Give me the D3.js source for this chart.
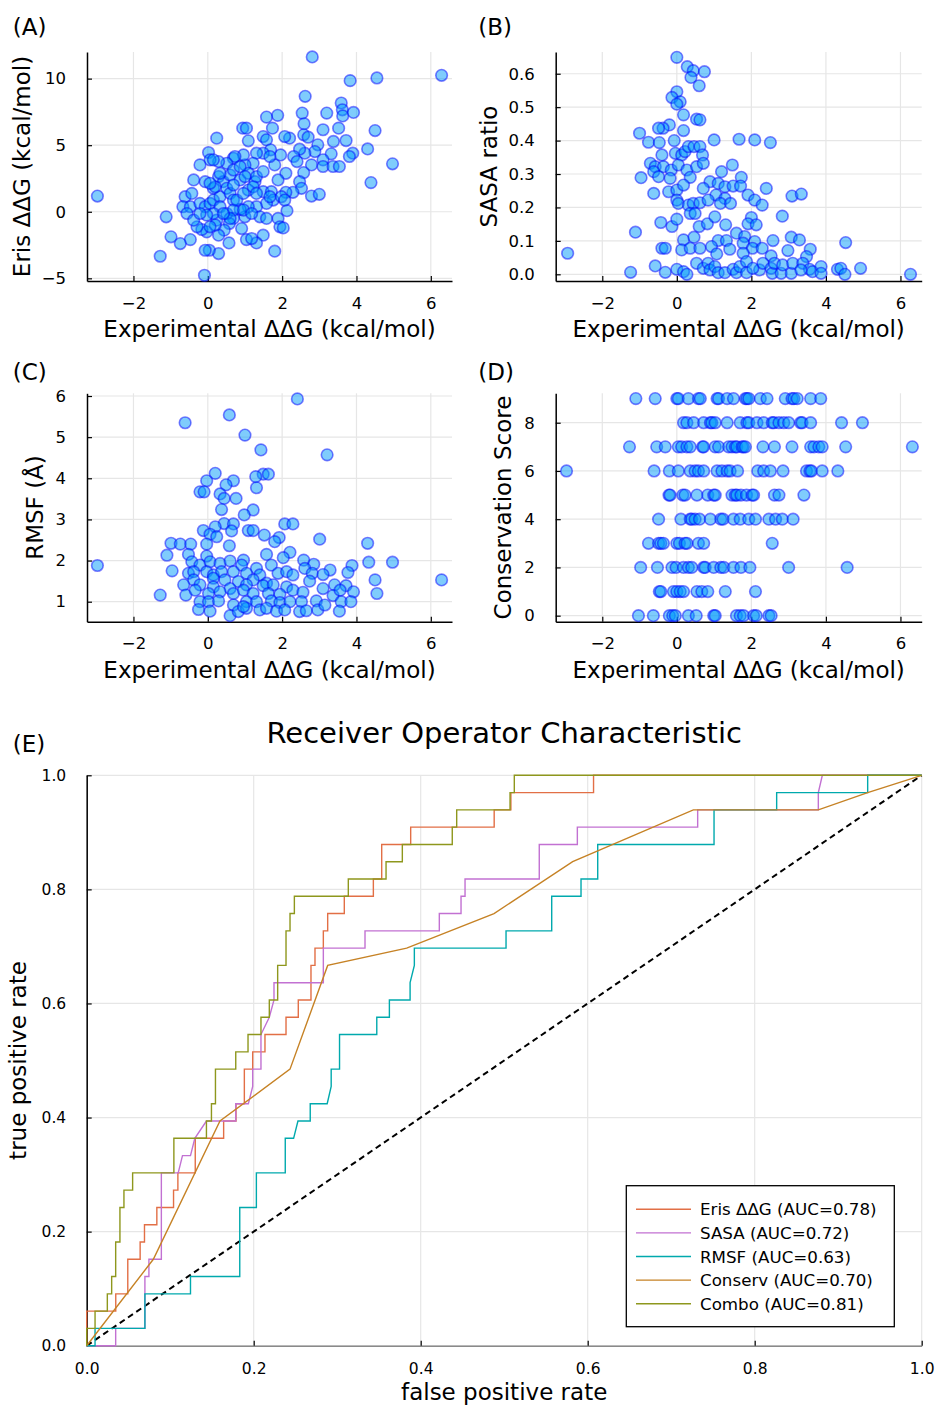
<!DOCTYPE html>
<html>
<head>
<meta charset="utf-8">
<script src="https://cdn.jsdelivr.net/npm/d3@7"></script>
<style>
  body { margin: 0; background: #fff; }
  svg text { font-family: "DejaVu Sans", sans-serif; }
</style>
</head>
<body>
<div id="chart"></div>
<script>
// ---- data ----
const scatterXTicks = [-2, 0, 2, 4, 6];
const erisTicks = [-5, 0, 5, 10];
const sasaTicks = [0, 0.1, 0.2, 0.3, 0.4, 0.5, 0.6];
const rmsfTicks = [1, 2, 3, 4, 5, 6];
const consTicks = [0, 2, 4, 6, 8];
const rocTicks = [0, 0.2, 0.4, 0.6, 0.8, 1.0];

// (A) experimental ddG vs Eris ddG
const erisPoints = [
  [-2.97,1.18],[6.29,10.25],[2.81,11.63],[3.83,9.85],[4.55,10.05],[2.62,8.67],[3.59,8.17],[3.62,7.66],
  [3.63,7.2],[3.92,7.46],[3.2,7.41],[2.54,7.41],[2.59,6.61],[1.58,7.11],[1.88,7.24],[1.74,6.28],
  [0.94,6.28],[1.04,6.28],[0.24,5.53],[1.09,5.33],[3.1,6.16],[3.52,6.28],[4.5,6.1],[2.58,5.78],
  [2.7,5.6],[2.2,5.53],[2.07,5.65],[1.49,5.65],[1.58,5.4],[3.72,5.35],[3.38,5.28],[2.96,5.03],
  [4.3,4.72],[3.9,4.4],[3.81,4.15],[3.32,4.35],[2.88,4.52],[2.61,4.4],[2.47,4.7],[2.31,4.15],
  [2.4,3.77],[2.79,3.52],[3.1,3.9],[3.1,3.4],[3.37,3.4],[3.54,3.4],[4.97,3.6],[4.39,2.19],
  [2.58,2.94],[2.47,2.26],[2.52,1.76],[2.79,1.18],[3.0,1.31],[2.29,1.46],[2.1,1.46],[2.1,2.89],
  [1.89,2.39],[1.8,3.52],[1.96,4.27],[1.69,4.65],[1.49,4.4],[1.31,4.4],[1.67,4.15],[1.22,3.64],
  [1.0,3.52],[0.96,4.27],[0.69,4.02],[0.73,4.15],[0.51,3.64],[0.29,3.77],[0.02,4.45],[0.06,3.9],
  [-0.21,3.52],[-0.38,2.39],[-0.07,2.26],[0.15,1.76],[0.29,2.64],[0.42,2.26],[0.6,2.76],[0.69,3.14],
  [0.87,2.39],[1.09,2.89],[1.27,2.26],[1.31,2.64],[1.49,3.02],[1.09,1.63],[1.49,1.51],[1.71,1.51],
  [1.76,0.88],[1.58,0.63],[1.31,0.38],[1.4,-0.38],[1.58,-0.5],[1.89,-0.5],[1.94,-1.13],[2.03,-1.21],
  [2.13,0.08],[1.8,-2.96],[1.49,-1.76],[1.31,-2.34],[1.04,-2.09],[1.18,-2.01],[0.91,-1.26],[1.0,-0.38],
  [1.09,0.38],[0.87,0.18],[0.69,-0.5],[0.58,-0.88],[0.57,-2.34],[0.44,-1.38],[0.29,-1.76],[0.24,-0.63],
  [0.29,-3.14],[0.04,-2.89],[-0.07,-2.89],[-0.09,-4.77],[-0.03,-1.51],[-0.16,-1.33],[-0.29,-1.13],[-0.47,-2.09],
  [-0.74,-2.39],[-0.99,-1.88],[-1.12,-0.38],[-1.28,-3.34],[-0.61,1.13],[-0.67,0.38],[-0.47,0.38],[-0.56,-0.13],
  [-0.38,-0.63],[-0.43,1.38],[-0.21,0.63],[-0.07,0.38],[0.06,0.63],[0.15,0.88],[0.33,1.13],[0.51,1.76],
  [0.6,1.38],[0.69,0.88],[0.33,0.38],[0.15,-0.13],[-0.03,-0.25],[-0.21,-0.13],[0.2,-1.0],[0.06,-1.13],
  [0.51,-0.13],[0.69,0.13],[0.78,0.88],[0.96,1.38],[1.22,1.88],[1.31,1.38],[0.96,0.13],[1.18,-0.13],
  [0.6,-0.5],[0.42,-0.13],[0.33,2.89],[0.2,1.88],[0.06,2.14],[0.69,2.01],[0.87,3.39],[1.0,2.64],
  [1.98,1.13],[2.07,0.88],[1.67,1.13],[0.15,3.9]
];

// (B) experimental ddG vs SASA ratio
const sasaPoints = [
  [-2.93,0.063],[6.27,0.0],[0.0,0.649],[0.28,0.621],[0.44,0.609],[0.74,0.606],[0.38,0.589],[0.6,0.564],
  [0.0,0.546],[-0.13,0.529],[0.09,0.516],[0.0,0.509],[0.18,0.477],[0.53,0.464],[0.62,0.462],[-0.2,0.447],
  [-0.37,0.437],[-0.49,0.437],[0.18,0.43],[-1.0,0.422],[1.0,0.402],[1.67,0.404],[2.09,0.402],[2.51,0.394],
  [-0.76,0.395],[-0.47,0.394],[-0.07,0.4],[-0.04,0.362],[0.13,0.357],[0.22,0.367],[0.31,0.382],[0.46,0.382],
  [0.62,0.382],[0.69,0.357],[-0.4,0.357],[-0.71,0.332],[-0.58,0.322],[-0.36,0.322],[-0.15,0.312],[0.04,0.327],
  [0.27,0.312],[0.53,0.322],[0.71,0.332],[-0.96,0.289],[-0.62,0.307],[-0.49,0.292],[-0.18,0.287],[0.36,0.29],
  [1.49,0.327],[1.2,0.307],[1.73,0.29],[0.89,0.277],[0.71,0.257],[1.11,0.272],[1.29,0.262],[1.51,0.264],
  [1.71,0.264],[-0.62,0.242],[-0.22,0.247],[0.0,0.252],[0.18,0.267],[2.4,0.257],[1.91,0.237],[2.09,0.222],
  [2.29,0.207],[3.09,0.234],[3.34,0.24],[1.05,0.237],[1.29,0.227],[0.0,0.222],[0.04,0.212],[0.31,0.207],
  [0.44,0.212],[0.62,0.214],[0.84,0.222],[1.17,0.212],[1.44,0.212],[0.36,0.182],[0.49,0.182],[2.83,0.174],
  [-0.43,0.155],[-0.13,0.143],[0.0,0.165],[0.6,0.143],[0.82,0.151],[1.02,0.172],[1.31,0.148],[2.0,0.17],
  [1.91,0.151],[2.13,0.148],[-1.11,0.126],[1.6,0.123],[1.82,0.113],[0.18,0.103],[0.46,0.111],[1.11,0.101],
  [1.33,0.101],[1.78,0.093],[2.09,0.098],[2.58,0.101],[3.07,0.111],[3.29,0.103],[4.53,0.095],[-0.4,0.078],
  [-0.31,0.078],[0.13,0.073],[0.36,0.078],[0.62,0.078],[0.93,0.083],[1.42,0.075],[2.03,0.078],[2.29,0.078],
  [2.98,0.071],[3.58,0.075],[3.48,0.053],[1.07,0.061],[1.78,0.063],[2.53,0.055],[-0.58,0.025],[-1.24,0.006],
  [-0.31,0.006],[0.0,0.015],[0.18,0.008],[0.27,0.0],[0.53,0.033],[0.71,0.018],[0.84,0.033],[0.89,0.013],
  [1.02,0.023],[1.11,0.005],[1.29,0.005],[1.51,0.015],[1.6,0.005],[1.69,0.023],[1.87,0.038],[1.87,0.005],
  [2.22,0.013],[2.31,0.033],[2.53,0.018],[2.56,0.003],[2.62,0.033],[2.8,0.003],[2.84,0.028],[3.07,0.003],
  [3.11,0.033],[3.38,0.033],[3.56,0.015],[3.64,0.008],[3.87,0.023],[3.87,0.003],[4.31,0.015],[4.4,0.018],
  [4.51,0.0],[4.93,0.018],[3.33,0.013],[2.04,0.018]
];

// (C) experimental ddG vs RMSF
const rmsfPoints = [
  [-2.97,1.88],[6.29,1.53],[2.41,5.93],[0.58,5.54],[-0.61,5.35],[1.0,5.05],[1.43,4.69],[3.21,4.57],
  [0.2,4.12],[1.49,4.1],[1.63,4.1],[1.29,4.04],[0.69,3.94],[-0.03,3.94],[0.49,3.84],[1.31,3.77],
  [-0.21,3.67],[-0.1,3.67],[0.33,3.62],[0.44,3.51],[0.76,3.51],[0.37,3.24],[1.22,3.23],[0.98,3.11],
  [2.07,2.89],[2.29,2.89],[0.44,2.9],[0.69,2.89],[0.2,2.82],[-0.12,2.73],[0.06,2.64],[0.24,2.58],
  [0.64,2.72],[1.09,2.73],[1.22,2.73],[1.52,2.62],[1.92,2.56],[1.8,2.46],[3.01,2.52],[4.3,2.42],
  [-0.99,2.42],[-0.74,2.4],[-0.46,2.4],[-0.03,2.4],[0.58,2.36],[-1.1,2.13],[-0.52,2.15],[-0.03,2.11],
  [1.58,2.15],[2.21,2.2],[2.03,2.07],[-0.43,1.97],[-0.21,1.89],[0.06,1.97],[0.33,1.93],[0.6,1.99],
  [0.96,2.01],[0.91,1.89],[1.31,1.81],[1.71,1.89],[2.58,2.01],[2.85,1.91],[2.61,1.81],[3.29,1.77],
  [3.88,1.88],[4.33,1.96],[4.97,1.96],[-0.96,1.75],[-0.52,1.69],[-0.38,1.73],[-0.03,1.73],[0.15,1.65],
  [0.37,1.73],[0.69,1.73],[1.04,1.69],[1.4,1.65],[1.89,1.69],[2.12,1.73],[2.29,1.65],[2.81,1.69],
  [3.1,1.66],[3.77,1.71],[4.5,1.53],[-0.38,1.53],[0.15,1.57],[0.46,1.53],[0.82,1.49],[1.22,1.53],
  [1.58,1.45],[2.74,1.5],[-0.65,1.41],[-0.21,1.41],[0.15,1.36],[0.6,1.32],[1.04,1.41],[1.49,1.39],
  [1.76,1.41],[2.12,1.36],[3.41,1.41],[3.72,1.39],[-1.28,1.16],[-0.59,1.16],[-0.34,1.28],[0.02,1.2],
  [0.33,1.24],[0.69,1.2],[0.96,1.28],[1.22,1.2],[1.63,1.2],[1.94,1.18],[2.29,1.28],[2.56,1.23],
  [3.1,1.32],[3.37,1.15],[3.56,1.28],[3.92,1.24],[4.55,1.2],[-0.21,1.0],[0.02,1.0],[0.29,1.02],
  [0.69,0.92],[1.04,1.0],[1.31,1.0],[1.71,1.02],[1.94,0.98],[2.21,1.0],[2.52,1.0],[2.92,1.02],
  [3.59,1.0],[3.85,1.0],[-0.25,0.81],[0.06,0.77],[0.6,0.66],[0.82,0.76],[1.04,0.84],[1.4,0.8],
  [1.58,0.84],[1.85,0.77],[2.07,0.8],[2.47,0.76],[2.65,0.78],[2.96,0.8],[3.54,0.77],[3.15,0.92],
  [0.96,0.88]
];

// (D) conservation score rows and the experimental ddG of each point in the row
const consScores = [9, 8, 7, 6, 5, 4, 3, 2, 1, 0];
const consXByScore = [
  [-1.1,-0.58,0.0,0.04,0.31,0.58,0.63,1.08,1.12,1.35,1.52,1.84,1.88,1.93,2.24,2.42,2.91,3.09,3.14,3.23,3.59,3.86],
  [0.18,0.27,0.45,0.72,0.9,0.94,1.03,1.35,1.7,1.88,1.93,2.15,2.33,2.56,2.6,2.74,2.87,3.0,3.32,3.36,3.59,4.42,4.98],
  [-1.27,-0.54,-0.31,0.04,0.13,0.27,0.36,0.69,0.72,1.03,1.12,1.39,1.48,1.57,1.61,1.75,1.79,1.84,2.31,2.62,3.09,3.59,3.68,3.81,3.9,4.53,6.32],
  [-2.96,-0.61,-0.2,0.04,0.36,0.49,0.58,0.72,1.08,1.21,1.35,1.43,1.63,2.17,2.33,2.51,2.85,3.48,3.57,3.61,3.9,4.32],
  [-0.21,-0.18,0.16,0.22,0.54,0.83,0.99,1.03,1.48,1.57,1.61,1.72,1.87,2.02,2.06,2.62,2.74,3.41],
  [-0.49,0.11,0.36,0.4,0.49,0.61,0.9,1.18,1.24,1.52,1.7,1.93,2.11,2.47,2.65,2.83,3.12],
  [-0.76,-0.49,-0.43,-0.36,0.0,0.07,0.22,0.27,0.58,0.72,2.56],
  [-0.97,-0.52,-0.13,-0.02,0.18,0.31,0.4,0.72,0.76,0.99,1.18,1.26,1.52,1.72,1.96,3.0,4.57],
  [-0.47,-0.43,-0.09,0.0,0.09,0.18,0.54,0.67,0.83,1.3,2.11],
  [-1.03,-0.63,-0.2,-0.11,-0.04,0.31,0.52,0.99,1.03,1.6,1.7,1.79,2.06,2.13,2.47,2.53]
];

// (E) ROC curves: [false positive rate, true positive rate]
const rocEris = [
  [0,0],[0,0.0606],[0.0348,0.0606],[0.0348,0.0909],[0.0492,0.0909],[0.0492,0.1515],[0.064,0.1515],[0.064,0.1818],
  [0.0692,0.1818],[0.0692,0.2121],[0.084,0.2121],[0.084,0.2424],[0.104,0.2424],[0.104,0.2727],[0.1092,0.2727],[0.1092,0.303],
  [0.13,0.303],[0.13,0.3636],[0.164,0.3636],[0.164,0.3939],[0.1788,0.3939],[0.1788,0.4242],[0.1888,0.4242],[0.1888,0.4848],
  [0.1988,0.4848],[0.1988,0.5152],[0.2135,0.5152],[0.2135,0.5455],[0.2387,0.5455],[0.2387,0.5758],[0.2534,0.5758],[0.2534,0.6061],
  [0.2686,0.6061],[0.2686,0.6667],[0.2734,0.6667],[0.2734,0.697],[0.2834,0.697],[0.2834,0.7273],[0.2886,0.7273],[0.2886,0.7576],
  [0.3085,0.7576],[0.3085,0.7879],[0.3433,0.7879],[0.3433,0.8182],[0.3533,0.8182],[0.3533,0.8788],[0.388,0.8788],[0.388,0.9091],
  [0.488,0.9091],[0.488,0.9394],[0.508,0.9394],[0.508,0.9697],[0.607,0.9697],[0.607,1],[1,1]
];
const rocSasa = [
  [0,0],[0.0347,0],[0.0347,0.0303],[0.0697,0.0303],[0.0697,0.1212],[0.0745,0.1212],[0.0745,0.1515],[0.0894,0.1515],
  [0.0894,0.303],[0.1096,0.303],[0.1147,0.3333],[0.1243,0.3333],[0.1295,0.3636],[0.1434,0.3939],[0.1785,0.3939],[0.1785,0.4242],
  [0.1936,0.4242],[0.1988,0.4545],[0.1988,0.4848],[0.2087,0.4848],[0.2087,0.5455],[0.2187,0.5758],[0.2243,0.6061],[0.2243,0.6364],
  [0.2834,0.6364],[0.2834,0.697],[0.3333,0.697],[0.3333,0.7273],[0.4223,0.7273],[0.4223,0.7576],[0.4483,0.7576],[0.4483,0.7879],
  [0.4531,0.7879],[0.4531,0.8182],[0.542,0.8182],[0.542,0.8788],[0.5876,0.8788],[0.5876,0.9091],[0.7317,0.9091],[0.7317,0.9394],
  [0.8762,0.9394],[0.8762,0.9697],[0.881,1],[1,1]
];
const rocRmsf = [
  [0,0],[0.01,0],[0.01,0.0303],[0.0697,0.0303],[0.0697,0.0909],[0.1243,0.0909],[0.1243,0.1212],[0.1833,0.1212],
  [0.1833,0.2424],[0.2032,0.2424],[0.2032,0.303],[0.2378,0.303],[0.2378,0.3636],[0.2478,0.3636],[0.253,0.3939],[0.2677,0.3939],
  [0.2677,0.4242],[0.288,0.4242],[0.2928,0.4545],[0.2928,0.4848],[0.3028,0.4848],[0.3028,0.5455],[0.3474,0.5455],[0.3474,0.5758],
  [0.3625,0.5758],[0.3625,0.6061],[0.3873,0.6061],[0.3873,0.6364],[0.3924,0.6667],[0.3924,0.697],[0.5022,0.697],[0.5022,0.7273],
  [0.5569,0.7273],[0.5569,0.7879],[0.592,0.7879],[0.592,0.8182],[0.612,0.8182],[0.612,0.8788],[0.7513,0.8788],[0.7513,0.9394],
  [0.8263,0.9394],[0.8263,0.9697],[0.9353,0.9697],[0.9353,1],[1,1]
];
const rocConserv = [
  [0,0],[0.0798,0.1515],[0.1596,0.3939],[0.2435,0.4848],[0.2886,0.6667],[0.3832,0.697],[0.4878,0.7576],[0.582,0.8485],
  [0.7265,0.9394],[0.8762,0.9394],[0.9353,0.9697],[1,1]
];
const rocCombo = [
  [0,0],[0,0.0303],[0.01,0.0303],[0.01,0.0606],[0.0247,0.0606],[0.0247,0.0909],[0.0299,0.0909],[0.0299,0.1212],
  [0.0347,0.1212],[0.0347,0.1818],[0.0398,0.1818],[0.0398,0.2424],[0.0446,0.2424],[0.0446,0.2727],[0.055,0.2727],[0.055,0.303],
  [0.1044,0.303],[0.1044,0.3636],[0.1434,0.3636],[0.1434,0.3939],[0.1494,0.3939],[0.1494,0.4242],[0.1542,0.4242],[0.1542,0.4848],
  [0.1785,0.4848],[0.1785,0.5152],[0.1932,0.5152],[0.1932,0.5455],[0.2087,0.5455],[0.2087,0.5758],[0.2187,0.5758],[0.2187,0.6061],
  [0.2287,0.6061],[0.2287,0.6667],[0.2387,0.6667],[0.2387,0.7273],[0.2435,0.7273],[0.2435,0.7576],[0.2487,0.7576],[0.2487,0.7879],
  [0.3133,0.7879],[0.3133,0.8182],[0.3585,0.8182],[0.3585,0.8485],[0.378,0.8485],[0.378,0.8788],[0.4378,0.8788],[0.4378,0.9091],
  [0.4431,0.9091],[0.4431,0.9394],[0.507,0.9394],[0.507,0.9697],[0.5121,0.9697],[0.5121,1],[1,1]
];
const chance = [[0, 0], [1, 1]];
const rocNames = ['Eris ΔΔG (AUC=0.78)', 'SASA (AUC=0.72)', 'RMSF (AUC=0.63)', 'Conserv (AUC=0.70)', 'Combo (AUC=0.81)'];
const rocCurves = [rocEris, rocSasa, rocRmsf, rocConserv, rocCombo];
const rocColors = ['#e26f46', '#c271d2', '#00a9ad', '#c68225', '#8e971d'];

// ---- layout ----
const width = 935, height = 1407;
const svg = d3.select('#chart').append('svg')
  .attr('width', width).attr('height', height);
svg.append('rect').attr('width', width).attr('height', height).attr('fill', '#fff');

const gridColor = '#e6e6e6';

function drawFrame(box, x, y, xTicks, yTicks, opt) {
  const g = svg.append('g');
  g.append('g').selectAll('line').data(xTicks).join('line')
    .attr('x1', d => x(d)).attr('x2', d => x(d))
    .attr('y1', box.top).attr('y2', box.bottom)
    .attr('stroke', gridColor).attr('stroke-width', 1.2);
  g.append('g').selectAll('line').data(yTicks).join('line')
    .attr('x1', box.left).attr('x2', box.right)
    .attr('y1', d => y(d)).attr('y2', d => y(d))
    .attr('stroke', gridColor).attr('stroke-width', 1.2);

  const ya = g.append('g')
    .attr('transform', `translate(${box.left},0)`)
    .call(d3.axisLeft(y).tickValues(yTicks).tickSize(-5).tickSizeOuter(0)
      .tickPadding(opt.yPad).tickFormat(opt.yFmt));
  const xa = g.append('g')
    .attr('transform', `translate(0,${box.bottom})`)
    .call(d3.axisBottom(x).tickValues(xTicks).tickSize(-5).tickSizeOuter(0)
      .tickPadding(opt.xPad).tickFormat(opt.xFmt));
  [ya, xa].forEach(a => {
    a.selectAll('text').attr('font-size', opt.tickSize + 'px')
      .attr('font-family', '"DejaVu Sans", sans-serif').attr('fill', '#000');
    a.selectAll('.tick line').attr('stroke', '#000').attr('stroke-width', 1.2);
    a.select('.domain').attr('stroke', '#000').attr('stroke-width', 1.5);
  });
  if (opt.xDomainColor) xa.select('.domain').attr('stroke', opt.xDomainColor);

  svg.append('text')
    .attr('x', (box.left + box.right) / 2).attr('y', opt.xLabelY)
    .attr('text-anchor', 'middle').attr('font-size', '23px')
    .text(opt.xLabel);
  svg.append('text')
    .attr('transform', `translate(${opt.yLabelX},${(box.top + box.bottom) / 2}) rotate(-90)`)
    .attr('text-anchor', 'middle').attr('font-size', '23px')
    .text(opt.yLabel);
  svg.append('text')
    .attr('x', opt.tag[0]).attr('y', opt.tag[1])
    .attr('font-size', '23px').text(opt.tagText);
  return g;
}

function drawDots(points, x, y) {
  svg.append('g').selectAll('circle').data(points).join('circle')
    .attr('cx', d => x(d[0])).attr('cy', d => y(d[1]))
    .attr('r', 5.8)
    .attr('fill', 'rgba(0,154,250,0.5)')
    .attr('stroke', 'rgba(0,0,255,0.5)')
    .attr('stroke-width', 1.6);
}

const xLab = 'Experimental ΔΔG (kcal/mol)';
const intFmt = d3.format('d');
const oneDec = d3.format('.1f');

const boxA = { left: 87, right: 452, top: 52, bottom: 281 };
const boxB = { left: 555.7, right: 921.7, top: 52, bottom: 281 };
const boxC = { left: 87, right: 452, top: 393.3, bottom: 621.7 };
const boxD = { left: 555.7, right: 921.7, top: 393.3, bottom: 621.7 };
const boxE = { left: 86.7, right: 921.7, top: 775.3, bottom: 1345.7 };

const ddgDomain = [-3.25, 6.57];

// (A)
{
  const x = d3.scaleLinear().domain(ddgDomain).range([boxA.left, boxA.right]);
  const y = d3.scaleLinear().domain([-5.2, 12.0]).range([boxA.bottom, boxA.top]);
  drawFrame(boxA, x, y, scatterXTicks, erisTicks, {
    yPad: 21, xPad: 16, tickSize: 16.5, xFmt: intFmt, yFmt: intFmt,
    xLabel: xLab, xLabelY: 337, yLabel: 'Eris ΔΔG (kcal/mol)', yLabelX: 30,
    tag: [12.7, 35], tagText: '(A)'
  });
  drawDots(erisPoints, x, y);
}
// (B)
{
  const x = d3.scaleLinear().domain(ddgDomain).range([boxB.left, boxB.right]);
  const y = d3.scaleLinear().domain([-0.02, 0.665]).range([boxB.bottom, boxB.top]);
  drawFrame(boxB, x, y, scatterXTicks, sasaTicks, {
    yPad: 21, xPad: 16, tickSize: 16.5, xFmt: intFmt, yFmt: oneDec,
    xLabel: xLab, xLabelY: 337, yLabel: 'SASA ratio', yLabelX: 497,
    tag: [478.3, 35], tagText: '(B)'
  });
  drawDots(sasaPoints, x, y);
}
// (C)
{
  const x = d3.scaleLinear().domain(ddgDomain).range([boxC.left, boxC.right]);
  const y = d3.scaleLinear().domain([0.514, 6.066]).range([boxC.bottom, boxC.top]);
  drawFrame(boxC, x, y, scatterXTicks, rmsfTicks, {
    yPad: 21, xPad: 16, tickSize: 16.5, xFmt: intFmt, yFmt: intFmt,
    xLabel: xLab, xLabelY: 678, yLabel: 'RMSF (Å)', yLabelX: 43,
    tag: [12.7, 380], tagText: '(C)'
  });
  drawDots(rmsfPoints, x, y);
}
// (D)
{
  const x = d3.scaleLinear().domain(ddgDomain).range([boxD.left, boxD.right]);
  const y = d3.scaleLinear().domain([-0.25, 9.22]).range([boxD.bottom, boxD.top]);
  drawFrame(boxD, x, y, scatterXTicks, consTicks, {
    yPad: 21, xPad: 16, tickSize: 16.5, xFmt: intFmt, yFmt: intFmt,
    xLabel: xLab, xLabelY: 678, yLabel: 'Conservation Score', yLabelX: 511,
    tag: [478.3, 380], tagText: '(D)'
  });
  const consPoints = consScores.flatMap((s, i) => consXByScore[i].map(v => [v, s]));
  drawDots(consPoints, x, y);
}
// (E)
{
  const x = d3.scaleLinear().domain([0, 1]).range([boxE.left, boxE.right]);
  const y = d3.scaleLinear().domain([0, 1]).range([boxE.bottom, boxE.top]);
  drawFrame(boxE, x, y, rocTicks, rocTicks, {
    yPad: 20.5, xPad: 17, tickSize: 15.5, xFmt: oneDec, yFmt: oneDec,
    xLabel: 'false positive rate', xLabelY: 1400, yLabel: 'true positive rate', yLabelX: 26,
    tag: [12.7, 752], tagText: '(E)', xDomainColor: '#8a8a8a'
  });
  svg.append('text')
    .attr('x', (boxE.left + boxE.right) / 2).attr('y', 743)
    .attr('text-anchor', 'middle').attr('font-size', '29px')
    .text('Receiver Operator Characteristic');

  const line = d3.line().x(d => x(d[0])).y(d => y(d[1]));
  svg.append('path').datum(chance)
    .attr('d', line).attr('fill', 'none')
    .attr('stroke', '#000').attr('stroke-width', 2)
    .attr('stroke-dasharray', '6,4');
  rocCurves.forEach((c, i) => {
    svg.append('path').datum(c)
      .attr('d', line).attr('fill', 'none')
      .attr('stroke', rocColors[i]).attr('stroke-width', 1.4);
  });

  // legend
  const lg = svg.append('g');
  lg.append('rect')
    .attr('x', 626.3).attr('y', 1185.7).attr('width', 268).attr('height', 141)
    .attr('fill', '#fff').attr('stroke', '#000').attr('stroke-width', 1.3);
  rocNames.forEach((name, i) => {
    const yy = 1209.3 + i * 23.6;
    lg.append('line').attr('x1', 636).attr('x2', 691).attr('y1', yy).attr('y2', yy)
      .attr('stroke', rocColors[i]).attr('stroke-width', 1.4);
    lg.append('text').attr('x', 700).attr('y', yy).attr('dy', '0.36em')
      .attr('font-size', '16.7px').text(name);
  });
}
</script>
</body>
</html>
